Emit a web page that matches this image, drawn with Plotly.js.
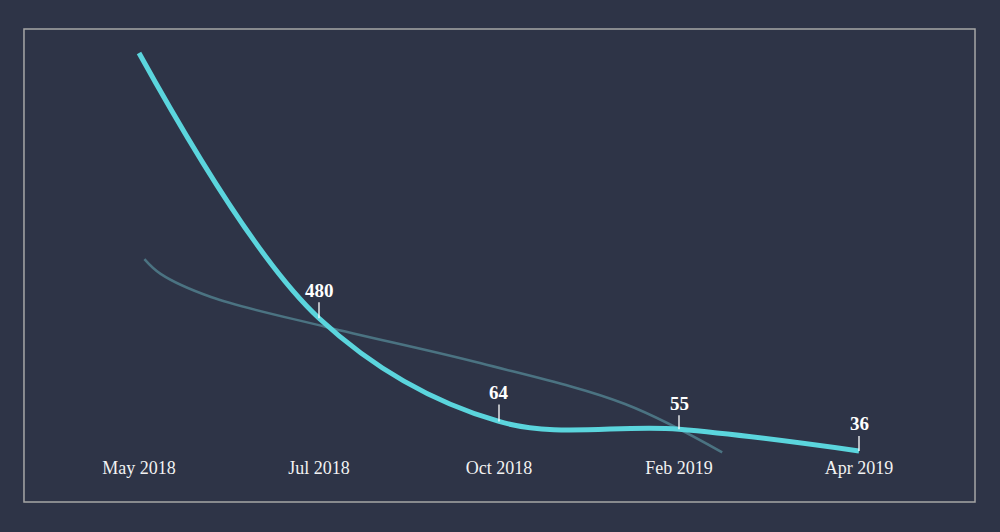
<!DOCTYPE html>
<html>
<head>
<meta charset="utf-8">
<script src="https://cdn.plot.ly/plotly-3.0.1.min.js"></script>
<style>
  html, body { margin: 0; padding: 0; background: #2e3447; }
  #chart { width: 1000px; height: 532px; }
</style>
</head>
<body>
<div id="chart"></div>
<script>
// Tick labels (categories, evenly spaced)
const categories = ["May 2018", "Jul 2018", "Oct 2018", "Feb 2019", "Apr 2019"];
const categoryPos = [0, 1, 2, 3, 4];

// Main series (thick cyan line), log-scaled values
const mainValues = [85000, 480, 64, 55, 36];
const mainLabels = ["", "480", "64", "55", "36"];

// Secondary series (thin grey-blue trend line)
const trendX = [0.03, 0.12, 0.40, 1.04, 1.90, 2.70, 3.24];
const trendValues = [1520, 1140, 726, 405, 199, 90, 35];

const bg = "#2e3447";
const cyan = "#5bd5dd";
const grey = "#4b7382";
const serif = "'Liberation Serif', 'DejaVu Serif', serif";

const traces = [
  {
    x: trendX, y: trendValues, type: "scatter", mode: "lines",
    line: { color: grey, width: 2.5, shape: "spline", smoothing: 1 },
    hoverinfo: "skip", showlegend: false
  },
  {
    x: categoryPos, y: mainValues, type: "scatter", mode: "lines",
    line: { color: cyan, width: 5, shape: "spline", smoothing: 1 },
    showlegend: false
  }
];

const labelOffsets = [0, -28, -29, -26, -27];
const annotations = [];
mainLabels.forEach((t, i) => {
  if (!t) return;
  annotations.push({
    x: categoryPos[i], y: Math.log10(mainValues[i]), xref: "x", yref: "y",
    text: "<b>" + t + "</b>", showarrow: true, arrowhead: 0, arrowwidth: 1.3,
    arrowcolor: "#ffffff", ax: 0, ay: labelOffsets[i], standoff: 0,
    font: { family: serif, size: 19, color: "#ffffff" }
  });
});

const layout = {
  width: 1000, height: 532,
  paper_bgcolor: bg, plot_bgcolor: bg,
  margin: { l: 49, r: 51, t: 40, b: 77 },
  xaxis: {
    range: [-0.5, 4.5], tickvals: categoryPos, ticktext: categories,
    showgrid: false, zeroline: false, showline: false, ticks: "",
    tickfont: { family: serif, size: 18, color: "#f2f2f2" }, fixedrange: true
  },
  yaxis: {
    type: "log", range: [1.522, 5.039], visible: false,
    showgrid: false, zeroline: false, fixedrange: true
  },
  shapes: [{
    type: "rect", xref: "paper", yref: "paper",
    x0: -0.0278, x1: 1.0289, y0: -0.1133, y1: 1.0265,
    line: { color: "#a6a6a6", width: 1.5 }, fillcolor: "rgba(0,0,0,0)"
  }],
  annotations: annotations,
  showlegend: false
};

Plotly.newPlot("chart", traces, layout, { displayModeBar: false, staticPlot: true });
</script>
</body>
</html>
